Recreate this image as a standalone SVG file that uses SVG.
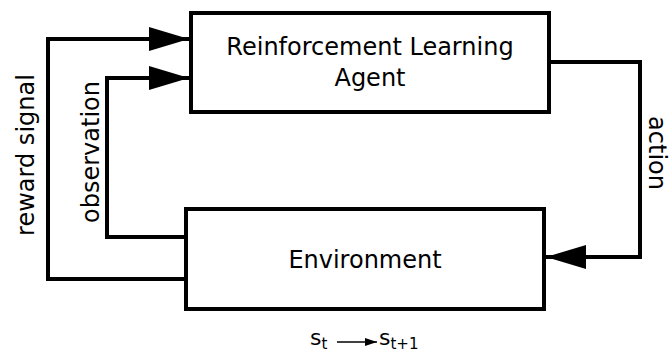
<svg xmlns="http://www.w3.org/2000/svg" width="670" height="352" viewBox="0 0 670 352">
<style>
.box{fill:#fff;stroke:#000;stroke-width:4}
.ln{fill:none;stroke:#000;stroke-width:4}
.t{font-family:"DejaVu Sans",Verdana,sans-serif;font-size:24px;fill:#000}
.s{font-family:"DejaVu Sans",Verdana,sans-serif;font-size:22px;fill:#000}
</style>
<defs>
<marker id="ah" markerWidth="40" markerHeight="24" refX="40" refY="12" markerUnits="userSpaceOnUse" orient="auto">
<path d="M0,0 L40,12 L0,24 Z" fill="#000"/>
</marker>
<marker id="sa" markerWidth="12" markerHeight="8" refX="12" refY="4" markerUnits="userSpaceOnUse" orient="auto">
<path d="M0,0 L12,4 L0,8 Z" fill="#000"/>
</marker>
</defs>
<g id="connectors">
<polyline class="ln" points="186,279 48,279 48,39 189,39" marker-end="url(#ah)"/>
<polyline class="ln" points="186,237 107,237 107,78 189,78" marker-end="url(#ah)"/>
<polyline class="ln" points="549,62 640,62 640,257 546,257" marker-end="url(#ah)"/>
<text class="t" transform="translate(34,155) rotate(-90)" text-anchor="middle">reward signal</text>
<text class="t" transform="translate(99,152) rotate(-90)" text-anchor="middle">observation</text>
<text class="t" transform="translate(649,153) rotate(90)" text-anchor="middle">action</text>
</g>
<g id="agent">
<rect class="box" x="191" y="13" width="358" height="99"/>
<text class="t" x="370" y="55" text-anchor="middle">Reinforcement Learning</text>
<text class="t" x="370" y="86" text-anchor="middle">Agent</text>
</g>
<g id="environment">
<rect class="box" x="186" y="209" width="358" height="100"/>
<text class="t" x="365" y="268" text-anchor="middle">Environment</text>
</g>
<g id="state">
<text class="s" x="310" y="345">s<tspan font-size="15" dy="4">t</tspan></text>
<line x1="337" y1="342" x2="377" y2="342" stroke="#000" stroke-width="1.5" marker-end="url(#sa)"/>
<text class="s" x="379" y="345">s<tspan font-size="15" dy="4">t+1</tspan></text>
</g>
</svg>
